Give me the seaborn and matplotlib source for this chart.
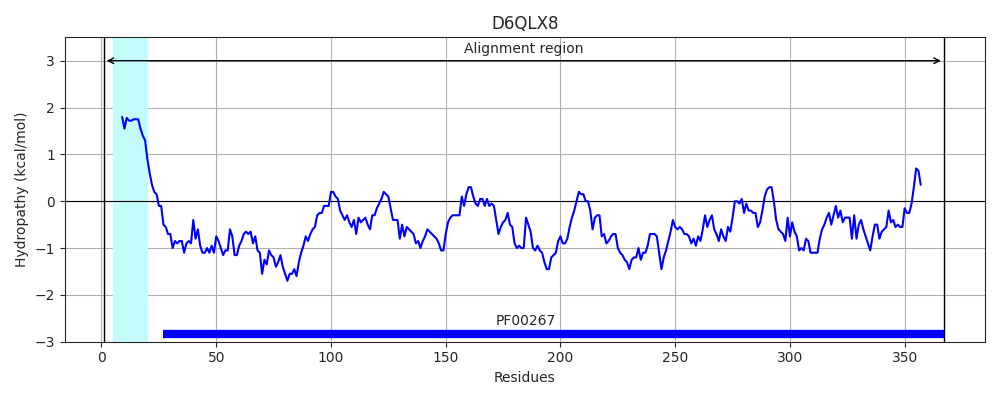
import numpy as np
import matplotlib
matplotlib.use("Agg")
import matplotlib.pyplot as plt
import seaborn as sns

# ── DATA ──────────────────────────────────────────────────────────────────────
TITLE = "D6QLX8"
START_RES = 9
hydropathy = [
    1.8, 1.55, 1.78, 1.72, 1.72, 1.75, 1.75, 1.75, 1.55, 1.4, 1.3, 0.9, 0.6, 0.35, 0.2, 0.15,
    -0.1, -0.1, -0.5, -0.55, -0.7, -0.7, -1.0, -0.85, -0.9, -0.85, -0.85, -1.1, -0.9, -0.85,
    -0.9, -0.4, -0.8, -0.6, -0.95, -1.1, -1.1, -1.0, -1.1, -0.95, -1.1, -0.75, -0.85, -1.0,
    -1.15, -1.05, -1.05, -0.6, -0.75, -1.15, -1.15, -0.95, -0.85, -0.7, -0.65, -0.7, -0.65,
    -0.9, -0.75, -1.05, -1.1, -1.55, -1.25, -1.35, -1.05, -1.15, -1.2, -1.4, -1.3, -1.15,
    -1.4, -1.55, -1.7, -1.55, -1.55, -1.45, -1.6, -1.3, -1.1, -0.95, -0.75, -0.85, -0.7,
    -0.6, -0.55, -0.3, -0.25, -0.25, -0.1, -0.1, -0.1, 0.2, 0.2, 0.1, 0.05, -0.2, -0.3,
    -0.4, -0.3, -0.45, -0.55, -0.4, -0.7, -0.35, -0.45, -0.4, -0.35, -0.5, -0.6, -0.3, -0.3,
    -0.15, -0.05, 0.05, 0.2, 0.15, 0.1, -0.15, -0.4, -0.4, -0.4, -0.8, -0.5, -0.75, -0.55,
    -0.6, -0.65, -0.7, -0.9, -0.85, -1.0, -0.85, -0.75, -0.6, -0.65, -0.7, -0.75, -0.8,
    -0.9, -1.05, -1.05, -0.7, -0.45, -0.35, -0.3, -0.3, -0.3, -0.3, 0.1, -0.1, 0.15, 0.3,
    0.3, 0.1, -0.05, -0.1, 0.05, 0.05, -0.1, 0.05, -0.1, -0.05, -0.1, -0.4, -0.7, -0.55,
    -0.45, -0.4, -0.25, -0.5, -0.55, -0.9, -1.0, -0.95, -1.0, -1.0, -0.35, -0.5, -0.65,
    -1.0, -1.05, -0.95, -1.05, -1.1, -1.3, -1.45, -1.45, -1.2, -1.15, -1.1, -0.85, -0.75,
    -0.9, -0.9, -0.8, -0.55, -0.35, -0.2, 0.0, 0.2, 0.15, 0.15, 0.0, 0.0, -0.2, -0.6,
    -0.35, -0.3, -0.3, -0.75, -0.7, -0.9, -0.85, -0.75, -0.7, -0.7, -1.0, -1.1, -1.15,
    -1.25, -1.3, -1.45, -1.25, -1.2, -1.2, -1.0, -1.25, -1.1, -1.1, -0.95, -0.7, -0.7,
    -0.7, -0.75, -1.1, -1.45, -1.2, -1.05, -0.85, -0.65, -0.4, -0.55, -0.6, -0.55, -0.6,
    -0.7, -0.7, -0.75, -0.9, -0.8, -0.95, -0.75, -0.85, -0.6, -0.3, -0.55, -0.4, -0.3,
    -0.6, -0.7, -0.85, -0.6, -0.75, -0.85, -0.55, -0.65, -0.35, 0.0, 0.0, -0.05, 0.05,
    -0.25, -0.05, -0.2, -0.2, -0.25, -0.25, -0.55, -0.45, -0.2, 0.1, 0.25, 0.3, 0.3, 0.0,
    -0.4, -0.6, -0.65, -0.7, -0.85, -0.35, -0.75, -0.45, -0.65, -0.75, -1.05, -1.0, -1.05,
    -0.8, -0.85, -1.1, -1.1, -1.1, -1.1, -0.8, -0.6, -0.5, -0.35, -0.25, -0.5, -0.3, -0.1,
    -0.35, -0.2, -0.45, -0.35, -0.35, -0.35, -0.8, -0.3, -0.8, -0.5, -0.4, -0.6, -0.75,
    -0.9, -1.05, -0.75, -0.5, -0.5, -0.8, -0.65, -0.6, -0.55, -0.2, -0.45, -0.4, -0.55,
    -0.5, -0.55, -0.55, -0.15, -0.25, -0.25, -0.05, 0.3, 0.7, 0.65, 0.35,
]
residues = np.arange(START_RES, START_RES + len(hydropathy))

highlight = (5, 20)          # cyan region
align_region = (1, 367)      # alignment region bounds
pfam_name = "PF00267"
pfam_region = (27, 367)

# ── PLOT ──────────────────────────────────────────────────────────────────────
sns.set_style("ticks")
plt.rcParams["font.family"] = ["DejaVu Sans"]

fig, ax = plt.subplots(figsize=(10, 4), dpi=100)
ax.grid(True, color="#b0b0b0", lw=0.8)
ax.set_axisbelow(True)

ax.axvspan(*highlight, color="#c4fcfc", zorder=1)
sns.lineplot(x=residues, y=hydropathy, color="blue", lw=1.5, ax=ax, zorder=3)
ax.axhline(0, color="black", lw=0.8, zorder=2)

for xv in align_region:
    ax.axvline(xv, color="black", lw=1, zorder=2)
ax.annotate("", xy=(align_region[1], 3), xytext=(align_region[0], 3),
            arrowprops=dict(arrowstyle="<->", color="black", lw=1))
ax.text(np.mean(align_region), 3.1, "Alignment region", ha="center", va="bottom")

ax.plot(pfam_region, [-2.83, -2.83], color="blue", lw=6, solid_capstyle="butt", zorder=3)
ax.text(np.mean(pfam_region) - 12, -2.7, pfam_name, ha="center", va="bottom")

ax.set_xlim(-16, 385)
ax.set_ylim(-3, 3.5)
ax.set_xlabel("Residues")
ax.set_ylabel("Hydropathy (kcal/mol)")
ax.set_title(TITLE, fontsize=12)
for s in ax.spines.values():
    s.set_visible(True)

plt.tight_layout()
plt.savefig("out.png", dpi=100)
